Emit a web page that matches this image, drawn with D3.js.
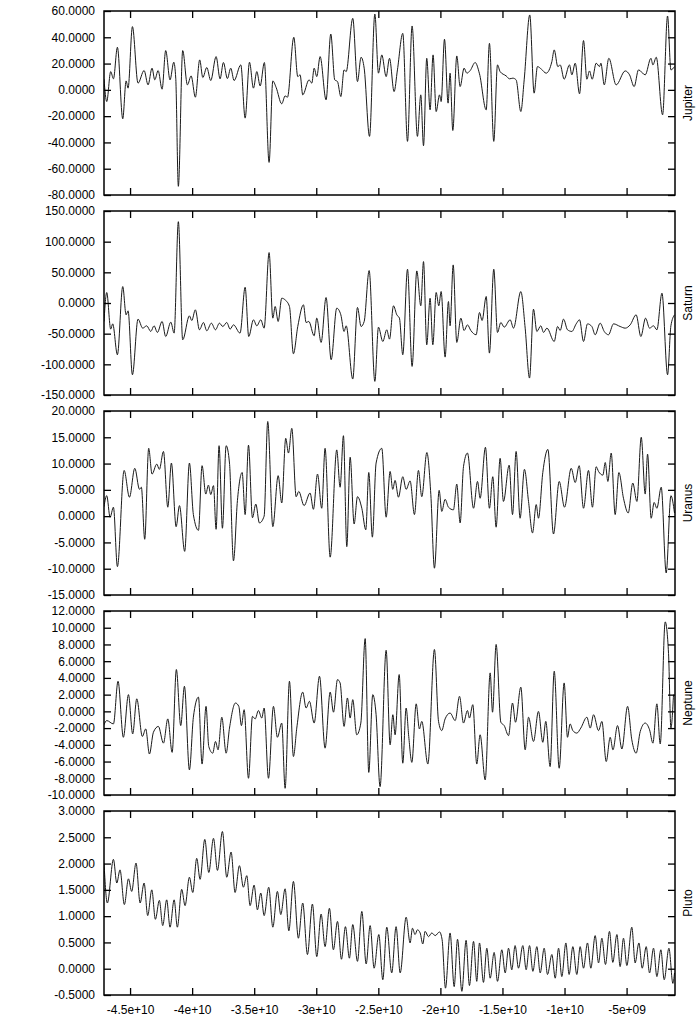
<!DOCTYPE html>
<html>
<head>
<meta charset="utf-8">
<script src="https://cdn.jsdelivr.net/npm/d3@7"></script>
<style>
    body { margin: 0; background: #fff; }
    svg text { font-family: "Liberation Sans", Arial, sans-serif; font-size: 12px; fill: #000; }
</style>
</head>
<body>
<svg id="chart" width="700" height="1021"></svg>
<script>
// time values are stored in units of 1e9
const T_UNIT = 1e9;
const xTicks = [-45, -40, -35, -30, -25, -20, -15, -10, -5];

const jupiter = [[-47.10,8.1],[-46.88,-8.9],[-46.56,13.9],[-46.34,8.4],[-46.02,32.4],[-45.59,-22],[-45.32,6.8],[-45.16,1.3],[-44.81,48.1],[-44.36,5.1],[-43.87,14.7],[-43.55,3.8],[-43.23,16.5],[-43.01,7.6],[-42.74,14.7],[-42.42,0.5],[-42.13,29.9],[-41.78,7.6],[-41.48,21],[-41.32,8.9],[-41.11,-73.4],[-40.76,29.9],[-40.38,3.8],[-40.08,10.6],[-39.74,-5.6],[-39.39,22.8],[-39.14,9.4],[-38.82,17],[-38.50,7.1],[-38.07,25.3],[-37.75,8.4],[-37.48,20.8],[-37.16,8.6],[-36.89,16.5],[-36.62,7.1],[-36.08,19],[-35.73,-21.5],[-35.38,21],[-35.06,1.3],[-34.79,13.9],[-34.52,3],[-34.18,20.8],[-33.80,-55.2],[-33.50,6.8],[-33.24,2],[-32.78,-10.6],[-32.51,-4.6],[-32.32,-5.6],[-31.81,40],[-31.49,10.1],[-31.30,11.4],[-31.09,-3.8],[-30.58,7.6],[-30.36,5.1],[-30.17,16.5],[-29.96,10.1],[-29.69,25.3],[-29.21,-7.6],[-28.83,42.5],[-28.51,7.6],[-28.29,6.3],[-28.02,-5.1],[-27.76,15.2],[-27.59,13.9],[-27.06,54.4],[-26.68,6.3],[-26.39,24.8],[-26.14,16.5],[-25.71,-35.4],[-25.28,57.7],[-24.99,12.7],[-24.72,26.6],[-24.37,10.1],[-24.10,24],[-23.73,-1.3],[-23.46,15.2],[-23.03,43],[-22.65,-39.2],[-22.28,48.6],[-21.85,-35.4],[-21.58,-3.8],[-21.36,-42.5],[-21.10,24],[-20.83,-15.2],[-20.59,26.6],[-20.34,-16.5],[-20.07,-3.8],[-19.94,-8.9],[-19.67,38.5],[-19.38,-10.1],[-19.22,12.7],[-19.00,-30.9],[-18.68,25.8],[-18.41,2.5],[-18.09,16.5],[-17.87,12.7],[-17.60,14.7],[-17.20,20.8],[-16.85,12.2],[-16.31,-15.2],[-16.05,35.4],[-15.70,-39.2],[-15.40,19],[-15.19,13.9],[-14.70,10.6],[-14.43,8.4],[-14.16,8.9],[-13.90,7.6],[-13.52,-16.5],[-13.25,7.6],[-12.80,57],[-12.45,-2.5],[-12.18,17.7],[-11.86,15.7],[-11.48,12.7],[-11.02,21.5],[-10.83,30.4],[-10.54,17.7],[-10.35,19],[-10.03,8.1],[-9.60,19],[-9.41,11.4],[-9.14,20.3],[-8.79,-3],[-8.47,37.5],[-8.20,8.1],[-7.99,14.4],[-7.77,8.1],[-7.45,20.3],[-7.18,17.7],[-7.07,20.3],[-6.80,3.8],[-6.43,24],[-5.84,3.8],[-5.11,14.4],[-4.76,11.4],[-4.39,2.5],[-4.04,15.2],[-3.50,11.4],[-3.04,24],[-2.88,19],[-2.61,24.8],[-2.10,-19],[-1.70,56.2],[-1.43,15.2],[-1.14,17.7]];

const saturn = [[-47.10,-30.1],[-46.88,17.1],[-46.56,-42.6],[-46.40,-34],[-46.02,-84.4],[-45.59,26.8],[-45.32,-19.3],[-45.16,-12.8],[-44.81,-117],[-44.36,-26.3],[-43.98,-41],[-43.66,-37.2],[-43.33,-46.4],[-43.07,-37.2],[-42.80,-48],[-42.42,-30.1],[-42.13,-54.6],[-41.72,-31.2],[-41.45,-49.1],[-41.11,132.6],[-40.76,-60],[-40.22,-20.9],[-40.03,-28.5],[-39.74,-11.1],[-39.41,-43.7],[-39.09,-31.8],[-38.82,-45.3],[-38.45,-32.9],[-38.12,-43.7],[-37.80,-32.9],[-37.53,-38.3],[-37.21,-31.8],[-36.94,-42.6],[-36.67,-35.6],[-36.14,-49.1],[-35.73,25.7],[-35.44,-54.6],[-35.06,-27.4],[-34.79,-37.2],[-34.47,-27.4],[-34.20,-41],[-33.80,82.2],[-33.50,-24.7],[-33.31,-5.7],[-33.07,-30.1],[-32.78,7.8],[-32.51,5.1],[-32.16,-5.7],[-31.84,-82.8],[-31.49,-38.3],[-31.03,-3],[-30.82,-31.8],[-30.60,-30.1],[-30.17,-53.5],[-29.96,-24.7],[-29.61,-64.3],[-29.21,8.9],[-28.80,-92.5],[-28.35,-8.4],[-28.02,-19.3],[-27.76,-46.4],[-27.59,-37.2],[-27.06,-124],[-26.68,-7.3],[-26.39,-38.3],[-26.14,-30.1],[-25.74,52.9],[-25.28,-127.8],[-24.99,-39.4],[-24.64,-62.7],[-24.32,-43.7],[-24.10,-58.9],[-23.78,-4.6],[-23.51,-19.3],[-23.30,-24.7],[-23.03,-84.4],[-22.65,55],[-22.28,-103.4],[-21.90,52.3],[-21.58,-4.6],[-21.36,67.5],[-21.10,-68.1],[-20.83,7.8],[-20.61,-68.1],[-20.34,17.1],[-20.13,-4.6],[-19.94,18.7],[-19.62,-88.2],[-19.35,2.4],[-19.22,-37.2],[-18.97,62.1],[-18.68,-64.3],[-18.35,-24.7],[-18.09,-44.8],[-17.82,-35.6],[-17.55,-44.8],[-17.12,-51.8],[-16.85,-15.5],[-16.64,-28.5],[-16.31,10.6],[-16.05,-81.7],[-15.70,55],[-15.40,-48],[-15.13,-31.8],[-14.86,-39.4],[-14.38,-27.4],[-14.11,-41],[-13.52,18.7],[-13.17,-41],[-12.82,-122.4],[-12.50,-10.1],[-12.23,-46.4],[-11.91,-37.2],[-11.69,-48],[-11.42,-41],[-10.83,-62.7],[-10.56,-38.3],[-10.35,-44.8],[-10.08,-26.3],[-9.76,-43.7],[-9.41,-46.4],[-9.06,-34],[-8.79,-27.4],[-8.47,-62.7],[-8.15,-34],[-7.80,-38.3],[-7.53,-51.8],[-7.13,-32.9],[-6.80,-46.4],[-6.46,-51.8],[-6.05,-34],[-5.52,-38.3],[-5.11,-41],[-4.71,-35.6],[-4.23,-19.3],[-3.85,-54.6],[-3.47,-24.7],[-3.15,-41],[-2.83,-37.2],[-2.56,-43.7],[-2.15,16],[-1.70,-117],[-1.43,-37.2],[-1.14,-19.3]];

const uranus = [[-47.10,1.8],[-46.88,3.9],[-46.61,-0.2],[-46.34,1.7],[-46.02,-9.6],[-45.48,8.7],[-45.05,3.6],[-44.62,9.1],[-44.24,5.1],[-44.09,5.5],[-43.82,-4.4],[-43.50,12.9],[-43.23,8],[-42.85,9.9],[-42.64,8.9],[-42.31,12.3],[-41.96,1.7],[-41.67,10.1],[-41.29,-2],[-41.02,2],[-40.60,-6.7],[-40.22,10.1],[-39.90,0.3],[-39.49,-2.7],[-39.20,9.6],[-38.90,4.2],[-38.69,5.9],[-38.50,4.1],[-38.28,5.8],[-38.07,-2.5],[-37.83,13.4],[-37.56,-2.3],[-37.26,13.4],[-36.99,10.1],[-36.67,-8.5],[-36.35,3],[-35.97,8.3],[-35.73,0.3],[-35.46,13.5],[-35.14,-0.3],[-34.87,2.3],[-34.58,-1.3],[-34.20,0],[-33.91,18],[-33.50,-2],[-33.07,7.7],[-32.78,2.5],[-32.46,14.8],[-32.24,12],[-31.97,16.7],[-31.62,3.7],[-31.41,4.7],[-30.98,2],[-30.50,4.4],[-30.23,1.3],[-29.90,8],[-29.56,1.5],[-29.29,12.9],[-28.88,-7.8],[-28.35,12.6],[-28.08,5.5],[-27.81,15.3],[-27.54,-5.8],[-27.27,11.2],[-26.95,-1.5],[-26.68,3.7],[-26.33,1.5],[-26.01,-2.6],[-25.77,8.3],[-25.48,-4],[-25.18,10.1],[-24.72,12.9],[-24.37,-0.2],[-24.05,8.5],[-23.84,5.1],[-23.65,6.8],[-23.38,3.6],[-23.03,7.5],[-22.76,5.1],[-22.44,6.7],[-22.09,0.3],[-21.77,8.7],[-21.50,3.7],[-21.09,12.1],[-20.77,4.1],[-20.48,-9.9],[-20.10,4.9],[-19.89,0.9],[-19.62,3.2],[-19.35,1.7],[-18.95,1.2],[-18.68,6.1],[-18.41,-1.3],[-18.14,9.4],[-17.82,12],[-17.33,1.5],[-17.01,6.6],[-16.80,3.4],[-16.37,13.1],[-16.05,1.5],[-15.78,7.5],[-15.51,-2.1],[-15.19,11],[-14.92,2.8],[-14.46,9.7],[-14.19,0.3],[-13.90,12.3],[-13.58,-0.4],[-13.23,8.9],[-12.90,2.8],[-12.58,-3.2],[-12.28,2.2],[-12.10,-0.4],[-11.75,8.3],[-11.34,12.7],[-10.89,-3.4],[-10.43,6.6],[-10.00,1.7],[-9.46,9.1],[-9.14,6.4],[-8.82,9.6],[-8.47,1.5],[-8.07,8.7],[-7.75,1.7],[-7.45,9.4],[-7.26,8.5],[-6.91,7.8],[-6.72,10.2],[-6.51,6.6],[-6.24,12],[-5.92,0.3],[-5.62,8.3],[-5.25,3.4],[-4.87,0.6],[-4.50,6.3],[-4.17,2.8],[-3.82,15],[-3.50,4.2],[-3.31,11.8],[-3.02,-0.4],[-2.78,2.6],[-2.56,1.5],[-2.21,5.5],[-1.81,-10.8],[-1.43,3.9],[-1.14,0.6]];

const neptune = [[-47.10,-1.6],[-46.88,-1.1],[-46.34,-1.5],[-45.97,3.6],[-45.54,-3.1],[-45.13,2],[-44.79,-2.7],[-44.46,1.5],[-44.01,-3],[-43.74,-2.1],[-43.44,-5.1],[-43.12,-2.5],[-42.72,-1.8],[-42.31,-3.8],[-41.96,-0.9],[-41.61,-4.9],[-41.27,5],[-40.92,-1.7],[-40.62,3],[-40.22,-7],[-39.90,-0.7],[-39.49,1.7],[-39.20,-6.3],[-38.88,0.6],[-38.66,-4.2],[-38.34,-5],[-38.12,-3.6],[-37.91,-4.6],[-37.61,-0.7],[-37.26,-5],[-36.99,-2],[-36.51,1],[-36.24,0.6],[-36.03,-1.7],[-35.81,0.2],[-35.46,-8],[-35.14,-0.6],[-34.92,-0.9],[-34.66,0.1],[-34.39,-0.8],[-34.20,0.4],[-33.85,-8],[-33.45,0.6],[-33.13,-3.1],[-32.78,-1.4],[-32.51,-9.2],[-32.16,3.6],[-31.84,-5.4],[-31.57,-2],[-31.09,2.3],[-30.82,0.4],[-30.55,1.2],[-30.17,-1.4],[-29.74,4.2],[-29.29,-4.4],[-28.88,2.3],[-28.61,-0.1],[-28.29,3.8],[-28.08,3.4],[-27.76,-1.8],[-27.49,1.6],[-27.27,-0.8],[-27.06,1.4],[-26.74,-2.8],[-26.41,-1.4],[-26.06,8.7],[-25.77,-7.3],[-25.45,2],[-25.18,-0.4],[-24.86,-9],[-24.37,7.3],[-24.05,-4],[-23.83,-0.4],[-23.65,-2.8],[-23.32,4.4],[-23.03,-6.2],[-22.76,0.4],[-22.55,-3],[-22.30,-6.1],[-21.95,0.9],[-21.69,-2.1],[-21.50,-1.2],[-21.01,-6.3],[-20.48,7.4],[-20.15,-1.2],[-19.89,-2.3],[-19.62,-0.9],[-19.22,-0.2],[-18.81,-1.1],[-18.46,1.8],[-18.14,-1.4],[-17.82,0.1],[-17.66,-0.8],[-17.39,0.8],[-17.07,-6.3],[-16.80,-2.8],[-16.39,-8.2],[-15.99,4.6],[-15.80,-0.1],[-15.51,8],[-15.13,-1.3],[-14.86,-1.7],[-14.51,-2.9],[-14.19,1],[-13.95,-1.3],[-13.52,2.9],[-13.17,-4.6],[-12.90,-0.7],[-12.50,-3.6],[-12.10,0],[-11.75,-3.7],[-11.51,-1.2],[-11.16,-6.6],[-10.83,4.8],[-10.43,-6.8],[-10.03,3.4],[-9.76,-3.1],[-9.55,-1.5],[-9.33,-2.3],[-9.01,-2.6],[-8.69,-2],[-8.20,-0.7],[-7.93,-2],[-7.66,-0.4],[-7.26,-2.3],[-6.99,-1.2],[-6.64,-6],[-6.32,-3.1],[-6.10,-4.6],[-5.73,-1.7],[-5.38,-4.5],[-4.92,0.6],[-4.58,-3.4],[-4.23,-5],[-3.90,-2.4],[-3.50,-1.4],[-3.15,-2.2],[-2.88,-3.8],[-2.56,0.9],[-2.29,-3.9],[-1.89,10.7],[-1.62,6.9],[-1.43,-2],[-1.22,2]];

const pluto = [[-47.10,2.01],[-46.83,1.25],[-46.34,2.08],[-46.07,1.63],[-45.81,1.88],[-45.46,1.22],[-45.13,1.71],[-44.87,1.47],[-44.52,2.01],[-44.19,1.25],[-43.87,1.63],[-43.58,1.01],[-43.25,1.5],[-42.96,0.94],[-42.64,1.3],[-42.37,0.82],[-42.05,1.31],[-41.78,0.79],[-41.45,1.31],[-41.19,0.79],[-40.84,1.51],[-40.57,1.2],[-40.22,1.74],[-39.95,1.45],[-39.63,2.1],[-39.36,1.7],[-38.98,2.46],[-38.66,1.83],[-38.28,2.48],[-37.96,1.87],[-37.56,2.61],[-37.21,1.74],[-36.86,2.22],[-36.54,1.45],[-36.19,1.96],[-35.87,1.55],[-35.60,1.77],[-35.33,1.2],[-35.01,1.59],[-34.74,1.12],[-34.47,1.44],[-34.20,1.01],[-33.83,1.55],[-33.50,0.79],[-33.13,1.47],[-32.86,1.03],[-32.51,1.52],[-32.21,0.72],[-31.84,1.66],[-31.44,0.58],[-31.09,1.25],[-30.71,0.27],[-30.31,1.23],[-29.96,0.23],[-29.61,1.04],[-29.29,0.42],[-28.94,1.15],[-28.62,0.36],[-28.29,0.9],[-27.97,0.18],[-27.65,0.8],[-27.33,0.2],[-27.06,0.84],[-26.68,0.14],[-26.33,1.09],[-25.98,0.09],[-25.66,0.82],[-25.34,0.01],[-24.96,0.65],[-24.64,-0.21],[-24.32,0.79],[-23.92,-0.08],[-23.57,0.8],[-23.24,-0.08],[-22.76,0.98],[-22.44,0.49],[-22.25,0.77],[-22.04,0.65],[-21.85,0.74],[-21.63,0.68],[-21.42,0.47],[-21.23,0.71],[-20.96,0.61],[-20.69,0.68],[-20.42,0.63],[-20.07,0.7],[-19.86,0.55],[-19.59,-0.37],[-19.22,0.68],[-18.89,-0.34],[-18.62,0.56],[-18.27,-0.43],[-17.93,0.54],[-17.66,-0.32],[-17.33,0.52],[-17.07,-0.24],[-16.85,0.49],[-16.53,-0.26],[-16.26,0.39],[-15.99,-0.18],[-15.67,0.31],[-15.40,-0.24],[-15.05,0.36],[-14.78,-0.08],[-14.51,0.39],[-14.25,-0.02],[-13.98,0.44],[-13.71,0.01],[-13.36,0.44],[-13.09,-0.02],[-12.82,0.44],[-12.55,-0.05],[-12.23,0.42],[-11.96,-0.08],[-11.64,0.39],[-11.37,-0.11],[-11.02,0.27],[-10.75,-0.18],[-10.48,0.39],[-10.22,-0.15],[-9.89,0.49],[-9.63,-0.11],[-9.33,0.42],[-9.01,-0.11],[-8.74,0.42],[-8.47,0.01],[-8.15,0.49],[-7.88,0.01],[-7.53,0.63],[-7.26,0.11],[-6.99,0.58],[-6.70,0.08],[-6.38,0.71],[-6.11,0.12],[-5.78,0.65],[-5.52,0.04],[-5.25,0.58],[-4.98,0.06],[-4.58,0.79],[-4.31,0.11],[-4.01,0.49],[-3.74,0.01],[-3.42,0.42],[-3.15,-0.08],[-2.83,0.39],[-2.56,-0.15],[-2.24,0.36],[-1.97,-0.21],[-1.59,0.39],[-1.27,-0.28],[-1.14,-0.08]];

const planetNames = ['Jupiter', 'Saturn', 'Uranus', 'Neptune', 'Pluto'];
const planetSeries = [jupiter, saturn, uranus, neptune, pluto];
const yDomains = [[-80, 60], [-150, 150], [-15, 20], [-10, 12], [-0.5, 3]];
const yTickSteps = [20, 50, 5, 2, 0.5];

const svg = d3.select('#chart');

const dims = {
    left: 104,
    right: 675,
    top: 11,
    panelH: 184,
    panelStep: 200,
    tick: 7
}

const xScale = d3.scaleLinear()
    .domain([-47.1 * T_UNIT, -1.1 * T_UNIT])
    .range([dims.left, dims.right]);

// gnuplot style exponent labels: -4.5e+10, -5e+09
const expFormat = v => {
    const e = Math.floor(Math.log10(Math.abs(v)));
    const m = +(v / Math.pow(10, e)).toFixed(2);
    return `${m}e+${String(e).padStart(2, '0')}`;
}
// plain hyphen minus, like the original plot
const yFormat = v => v.toFixed(4);

planetSeries.forEach((series, i) => {
    const top = dims.top + i * dims.panelStep;
    const bottom = top + dims.panelH;
    const [lo, hi] = yDomains[i];
    const yTicks = d3.range(lo, hi + yTickSteps[i] / 2, yTickSteps[i]);

    const yScale = d3.scaleLinear().domain(yDomains[i]).range([bottom, top]);
    const g = svg.append('g').attr('class', 'panel');

    g.append('clipPath').attr('id', `clip${i}`)
        .append('rect')
        .attr('x', dims.left).attr('y', top)
        .attr('width', dims.right - dims.left).attr('height', dims.panelH);

    const line = d3.line()
        .x(d => xScale(d[0] * T_UNIT))
        .y(d => yScale(d[1]))
        .curve(d3.curveMonotoneX);

    g.append('path')
        .datum(series)
        .attr('clip-path', `url(#clip${i})`)
        .attr('fill', 'none')
        .attr('stroke', '#1a1a1a')
        .attr('stroke-width', 1)
        .attr('d', line);

    const yLeft = d3.axisLeft(yScale).tickValues(yTicks).tickSize(-dims.tick).tickPadding(9).tickFormat(yFormat);
    const yRight = d3.axisRight(yScale).tickValues(yTicks).tickSize(-dims.tick).tickFormat('');
    const xTop = d3.axisTop(xScale).tickValues(xTicks.map(t => t * T_UNIT)).tickSize(-dims.tick).tickFormat('');
    const xBottom = d3.axisBottom(xScale).tickValues(xTicks.map(t => t * T_UNIT)).tickSize(-dims.tick).tickPadding(10)
        .tickFormat(i === planetSeries.length - 1 ? expFormat : '');

    g.append('g').attr('transform', `translate(${dims.left},0)`).call(yLeft);
    g.append('g').attr('transform', `translate(${dims.right},0)`).call(yRight);
    g.append('g').attr('transform', `translate(0,${top})`).call(xTop);
    g.append('g').attr('transform', `translate(0,${bottom})`).call(xBottom);

    g.selectAll('.domain').remove();
    g.selectAll('.tick line').attr('stroke', '#000').attr('stroke-width', 1.3);
    g.selectAll('.tick text').attr('fill', '#000').style('font-size', '12px')
        .style('font-family', '"Liberation Sans", Arial, sans-serif');

    g.append('rect')
        .attr('x', dims.left).attr('y', top)
        .attr('width', dims.right - dims.left).attr('height', dims.panelH)
        .attr('fill', 'none')
        .attr('stroke', '#000')
        .attr('stroke-width', 1.5);

    g.append('text')
        .attr('transform', `translate(692,${(top + bottom) / 2}) rotate(-90)`)
        .attr('text-anchor', 'middle')
        .text(planetNames[i]);
});
</script>
</body>
</html>
